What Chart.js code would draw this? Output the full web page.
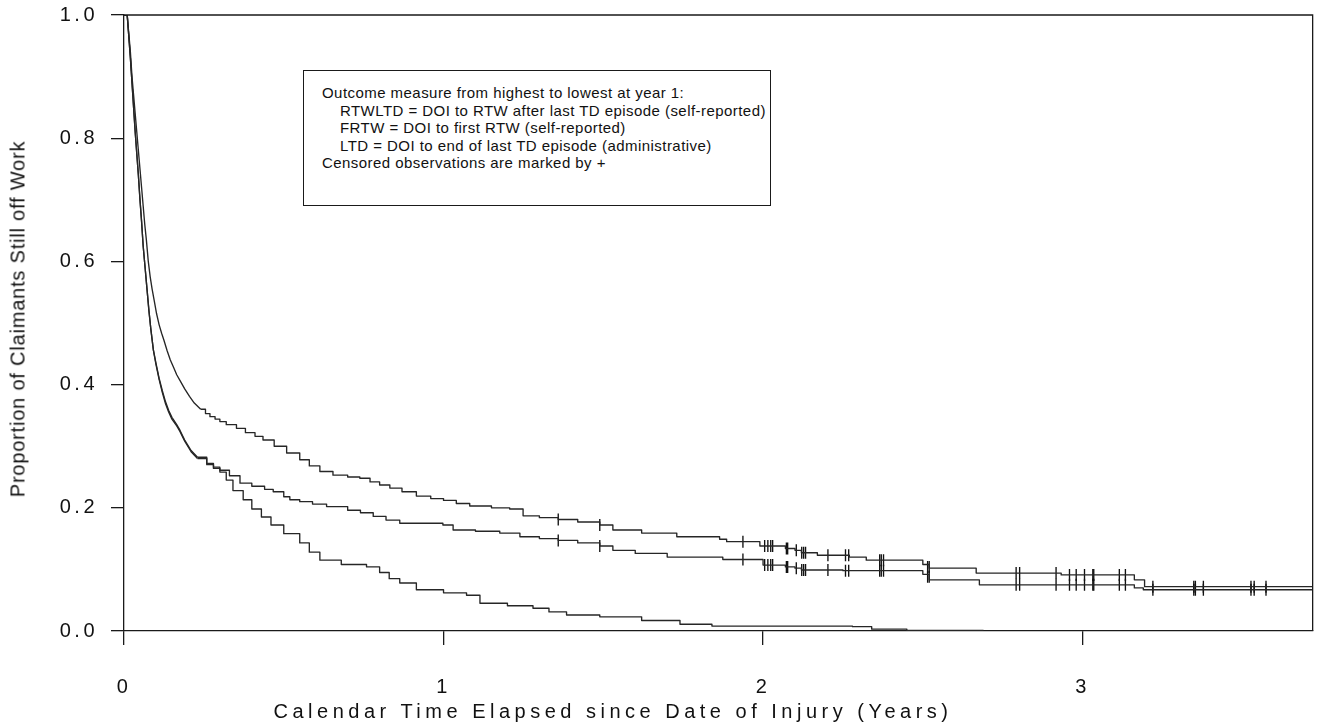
<!DOCTYPE html>
<html>
<head>
<meta charset="utf-8">
<script src="https://cdn.jsdelivr.net/npm/chart.js@4.4.1/dist/chart.umd.min.js"></script>
<style>
  html, body { margin:0; padding:0; background:#fff; overflow:hidden; }
  #wrap { position:relative; width:1320px; height:727px; }
  canvas { position:absolute; left:0; top:0; }
  .txt { position:absolute; font-family:'Liberation Sans', Arial, sans-serif; color:#111; white-space:pre; }
  #legendBox { left:303px; top:70px; width:466px; height:134px; border:1.8px solid #1a1a1a; background:#fff;
    font-size:15px; letter-spacing:0.45px; line-height:17.6px; padding:0; box-sizing:content-box; }
  #legendBox div { position:absolute; }
  #xTitle { top:700px; text-align:center; font-size:20px; letter-spacing:4.5px; }
  #yTitle { left:18px; top:319px; font-size:20px; letter-spacing:0.8px; transform:translate(-50%,-50%) rotate(-90deg); }
</style>
</head>
<body>
<div id="wrap">
  <canvas id="c" width="1320" height="727"></canvas>
  <div id="legendBox" class="txt">
    <div style="left:18px;top:13px">Outcome measure from highest to lowest at year 1:</div>
    <div style="left:36px;top:30.6px">RTWLTD = DOI to RTW after last TD episode (self-reported)</div>
    <div style="left:36px;top:48.2px">FRTW = DOI to first RTW (self-reported)</div>
    <div style="left:36px;top:65.8px">LTD = DOI to end of last TD episode (administrative)</div>
    <div style="left:18px;top:83.4px">Censored observations are marked by +</div>
  </div>
  <div id="xTitle" class="txt" style="left:0;width:1226px">Calendar Time Elapsed since Date of Injury (Years)</div>
  <div id="yTitle" class="txt">Proportion of Claimants Still off Work</div>
</div>
<script>
// ---------------- DATA ----------------
const xTickValues = [0, 1, 2, 3];
const yTickValues = [0, 0.2, 0.4, 0.6, 0.8, 1.0];
const xMax = 3.72;

// RTWLTD = DOI to RTW after last TD episode (self-reported)  (highest)
const rtwltdTime = [0,0.010,0.015,0.020,0.025,0.030,0.035,0.040,0.045,0.050,0.055,0.060,0.065,0.070,0.076,0.082,0.088,0.095,0.102,0.110,0.118,0.125,0.135,0.145,0.155,0.165,0.175,0.190,0.205,0.220,0.240,0.255,0.269,0.285,0.300,0.320,0.352,0.380,0.410,0.435,0.470,0.509,0.550,0.580,0.613,0.654,0.700,0.738,0.770,0.800,0.832,0.870,0.915,0.960,1.000,1.040,1.082,1.150,1.207,1.249,1.300,1.359,1.420,1.489,1.530,1.620,1.730,1.864,1.886,1.990,2.070,2.100,2.120,2.170,2.270,2.323,2.500,2.520,2.667,2.933,3.162,3.194,3.720];
const rtwltdSurv = [1,1.000,0.970,0.940,0.900,0.870,0.840,0.810,0.780,0.750,0.720,0.690,0.660,0.635,0.600,0.575,0.555,0.535,0.515,0.497,0.483,0.472,0.455,0.440,0.428,0.416,0.407,0.393,0.381,0.370,0.360,0.353,0.348,0.344,0.340,0.335,0.329,0.322,0.316,0.310,0.300,0.289,0.278,0.268,0.259,0.253,0.250,0.248,0.242,0.237,0.232,0.226,0.219,0.215,0.212,0.207,0.203,0.200,0.198,0.187,0.184,0.181,0.177,0.172,0.164,0.159,0.153,0.149,0.145,0.138,0.134,0.131,0.127,0.123,0.120,0.115,0.108,0.102,0.094,0.091,0.083,0.072,0.072];

// FRTW = DOI to first RTW (self-reported)  (middle)
const frtwTime = [0,0.010,0.015,0.020,0.025,0.030,0.035,0.040,0.045,0.050,0.055,0.060,0.066,0.072,0.078,0.084,0.092,0.100,0.110,0.120,0.130,0.140,0.150,0.165,0.175,0.190,0.210,0.230,0.259,0.280,0.300,0.330,0.363,0.400,0.440,0.467,0.500,0.519,0.550,0.590,0.634,0.700,0.740,0.780,0.820,0.863,0.998,1.030,1.100,1.176,1.239,1.300,1.359,1.420,1.489,1.530,1.600,1.700,1.874,2.000,2.070,2.100,2.120,2.250,2.500,2.520,2.677,3.162,3.190,3.720];
const frtwSurv = [1,1.000,0.965,0.930,0.890,0.850,0.810,0.775,0.740,0.700,0.665,0.625,0.590,0.555,0.520,0.490,0.456,0.435,0.410,0.390,0.372,0.358,0.347,0.335,0.326,0.310,0.293,0.282,0.272,0.266,0.261,0.252,0.240,0.235,0.230,0.226,0.218,0.213,0.210,0.206,0.202,0.196,0.192,0.186,0.180,0.175,0.172,0.164,0.162,0.159,0.153,0.150,0.147,0.143,0.138,0.131,0.126,0.120,0.116,0.107,0.104,0.102,0.099,0.098,0.092,0.083,0.075,0.070,0.067,0.067];

// LTD = DOI to end of last TD episode (administrative)  (lowest)
const ltdTime = [0,0.010,0.015,0.020,0.025,0.030,0.035,0.040,0.045,0.050,0.055,0.060,0.066,0.072,0.078,0.084,0.092,0.100,0.110,0.120,0.130,0.140,0.150,0.165,0.175,0.190,0.210,0.230,0.259,0.280,0.300,0.320,0.341,0.373,0.400,0.430,0.460,0.500,0.550,0.580,0.613,0.680,0.759,0.800,0.830,0.863,0.915,1.000,1.072,1.114,1.200,1.280,1.330,1.385,1.489,1.620,1.740,1.840,2.280,2.340,2.450,2.690];
const ltdSurv = [1,1.000,0.965,0.930,0.890,0.850,0.810,0.775,0.740,0.700,0.665,0.625,0.590,0.555,0.520,0.490,0.456,0.433,0.408,0.387,0.369,0.355,0.344,0.333,0.324,0.308,0.291,0.280,0.270,0.264,0.258,0.245,0.228,0.213,0.198,0.185,0.172,0.158,0.143,0.128,0.115,0.108,0.104,0.095,0.085,0.078,0.067,0.062,0.058,0.045,0.041,0.037,0.031,0.026,0.023,0.017,0.011,0.008,0.007,0.003,0.001,0.001];

// Censored observations (+)
const censorTime = [1.359,1.489,1.937,2.005,2.015,2.024,2.030,2.073,2.077,2.104,2.121,2.127,2.133,2.203,2.258,2.268,2.365,2.370,2.377,2.515,2.520,2.792,2.803,2.917,2.959,2.980,3.006,3.032,3.035,3.115,3.134,3.220,3.348,3.353,3.378,3.527,3.537,3.574];
const rtwltdCensorSurv = [0.181,0.172,0.145,0.138,0.138,0.138,0.138,0.134,0.134,0.131,0.127,0.127,0.127,0.123,0.123,0.123,0.115,0.115,0.115,0.104,0.104,0.094,0.094,0.094,0.091,0.091,0.091,0.091,0.091,0.091,0.091,0.072,0.072,0.072,0.072,0.072,0.072,0.072];
const frtwCensorSurv = [0.147,0.138,0.116,0.107,0.107,0.107,0.107,0.104,0.104,0.102,0.099,0.099,0.099,0.099,0.098,0.098,0.098,0.098,0.098,0.088,0.088,0.075,0.075,0.075,0.075,0.075,0.075,0.075,0.075,0.075,0.075,0.067,0.067,0.067,0.067,0.067,0.067,0.067];

// events are so dense before this time that the step curve looks continuous
const denseUntil = 0.25;

// ---------------- CHART ----------------
const pts = (xs, ys) => xs.map((x, i) => ({ x: x, y: ys[i] }));
const LINE = '#262626';
const AXIS = '#1a1a1a';
const FONT = "'Liberation Sans', Arial, sans-serif";

function curveParts(label, xs, ys) {
  const all = pts(xs, ys);
  const early = all.filter(p => p.x <= denseUntil);
  const late = all.filter(p => p.x > denseUntil);
  const lastEarly = early[early.length - 1];
  const lateData = [lastEarly].concat(late);
  const base = { type: 'line', showLine: true, borderColor: LINE, borderWidth: 1.35,
    pointRadius: 0, fill: false, tension: 0, borderJoinStyle: 'round' };
  return [
    Object.assign({}, base, { label: label + ' (early)', data: early, stepped: false }),
    Object.assign({}, base, { label: label, data: lateData, stepped: true })
  ];
}
function censors(label, xs, ys) {
  return { type: 'scatter', label, data: pts(xs, ys), showLine: false,
    pointStyle: 'line', rotation: 90, pointRadius: 6, pointBorderColor: '#111', pointBorderWidth: 1.35,
    pointBackgroundColor: '#111' };
}

const framePlugin = {
  id: 'frame',
  beforeDraw(chart) { chart.ctx.letterSpacing = '3.5px'; },
  afterDatasetsDraw(chart) {
    const { ctx, chartArea: a } = chart;
    ctx.save();
    ctx.strokeStyle = AXIS; ctx.lineWidth = 1.3;
    ctx.beginPath();
    ctx.moveTo(a.left, a.top); ctx.lineTo(a.right, a.top); ctx.lineTo(a.right, a.bottom);
    ctx.stroke();
    ctx.restore();
  }
};

new Chart(document.getElementById('c'), {
  type: 'scatter',
  data: { datasets: [].concat(
    curveParts('RTWLTD', rtwltdTime, rtwltdSurv),
    curveParts('FRTW', frtwTime, frtwSurv),
    curveParts('LTD', ltdTime, ltdSurv),
    [censors('RTWLTD censored', censorTime, rtwltdCensorSurv),
     censors('FRTW censored', censorTime, frtwCensorSurv)]
  )},
  options: {
    responsive: false, animation: false,
    layout: { padding: { left: 0, right: 5, top: 15, bottom: 0 } },
    plugins: { legend: { display: false }, tooltip: { enabled: false } },
    scales: {
      x: { type: 'linear', min: 0, max: xMax,
        afterBuildTicks: s => { s.ticks = xTickValues.map(v => ({ value: v })); },
        afterFit: s => { s.height = 96; s.paddingLeft = 0; s.paddingRight = 0; },
        grid: { drawOnChartArea: false, drawTicks: true, tickLength: 14, color: AXIS, lineWidth: 1.3 },
        border: { display: true, color: AXIS, width: 1.3 },
        ticks: { padding: 30, color: '#111', font: { family: FONT, size: 20 }, maxRotation: 0,
          callback: v => String(v) }
      },
      y: { type: 'linear', min: 0, max: 1,
        afterBuildTicks: s => { s.ticks = yTickValues.map(v => ({ value: v })); },
        afterFit: s => { s.width = 124; s.paddingTop = 0; s.paddingBottom = 0; },
        grid: { drawOnChartArea: false, drawTicks: true, tickLength: 13, color: AXIS, lineWidth: 1.3 },
        border: { display: true, color: AXIS, width: 1.3 },
        ticks: { padding: 13, color: '#111', font: { family: FONT, size: 20 },
          callback: v => Number(v).toFixed(1) }
      }
    }
  },
  plugins: [framePlugin]
});
</script>
</body>
</html>
